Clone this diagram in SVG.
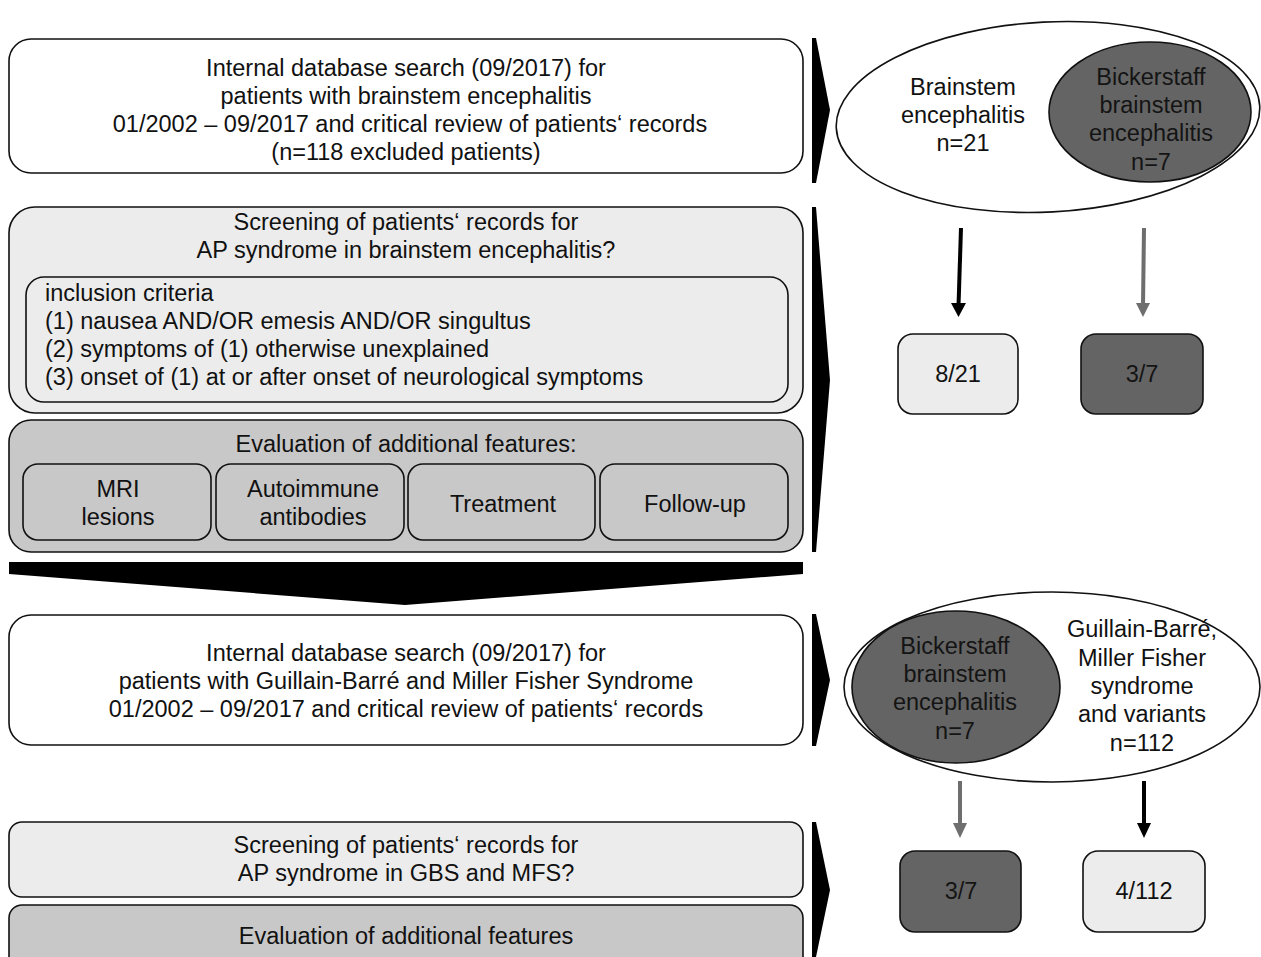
<svg xmlns="http://www.w3.org/2000/svg" width="1261" height="957" viewBox="0 0 1261 957">
<style>
text{font-family:"Liberation Sans",Arial,sans-serif;font-size:23.5px;fill:#111;text-anchor:middle}
.l{text-anchor:start}
.box{stroke:#111;stroke-width:1.6}
.w{fill:#fff}
.lg{fill:#ececec}
.mg{fill:#c8c8c8}
.dg{fill:#646464}
.dt{fill:#141414}
.chev{fill:#000}
</style>
<rect width="1261" height="957" fill="#fff"/>

<g id="search1">
<rect class="box w" x="9" y="39" width="794" height="134" rx="22"/>
<text x="406" y="76">Internal database search (09/2017) for</text>
<text x="406" y="104">patients with brainstem encephalitis</text>
<text x="410" y="132">01/2002 – 09/2017 and critical review of patients‘ records</text>
<text x="406" y="160">(n=118 excluded patients)</text>
</g>

<g id="screening1">
<rect class="box lg" x="9" y="207" width="794" height="206" rx="26"/>
<text x="406" y="230">Screening of patients‘ records for</text>
<text x="406" y="258">AP syndrome in brainstem encephalitis?</text>
<rect class="box lg" x="26" y="277" width="762" height="125" rx="18"/>
<text class="l" x="45" y="301">inclusion criteria</text>
<text class="l" x="45" y="329">(1) nausea AND/OR emesis AND/OR singultus</text>
<text class="l" x="45" y="357">(2) symptoms of (1) otherwise unexplained</text>
<text class="l" x="45" y="385">(3) onset of (1) at or after onset of neurological symptoms</text>
</g>

<g id="evaluation1">
<rect class="box mg" x="9" y="420" width="794" height="132" rx="22"/>
<text x="406" y="452">Evaluation of additional features:</text>
<rect class="box mg" x="23" y="464" width="188" height="76" rx="15"/>
<text x="118" y="497">MRI</text>
<text x="118" y="525">lesions</text>
<rect class="box mg" x="216" y="464" width="188" height="76" rx="15"/>
<text x="313" y="497">Autoimmune</text>
<text x="313" y="525">antibodies</text>
<rect class="box mg" x="408" y="464" width="187" height="76" rx="15"/>
<text x="503" y="512">Treatment</text>
<rect class="box mg" x="600" y="464" width="188" height="76" rx="15"/>
<text x="695" y="512">Follow-up</text>
</g>

<g id="search2">
<rect class="box w" x="9" y="615" width="794" height="130" rx="22"/>
<text x="406" y="661">Internal database search (09/2017) for</text>
<text x="406" y="689">patients with Guillain-Barré and Miller Fisher Syndrome</text>
<text x="406" y="717">01/2002 – 09/2017 and critical review of patients‘ records</text>
</g>

<g id="screening2">
<rect class="box lg" x="9" y="822" width="794" height="75" rx="13"/>
<text x="406" y="853">Screening of patients‘ records for</text>
<text x="406" y="881">AP syndrome in GBS and MFS?</text>
</g>

<g id="evaluation2">
<rect class="box mg" x="9" y="905" width="794" height="70" rx="13"/>
<text x="406" y="944">Evaluation of additional features</text>
</g>

<g id="venn1">
<ellipse class="box w" cx="1048" cy="117" rx="212" ry="95" transform="rotate(-3 1048 117)"/>
<ellipse class="box dg" cx="1150" cy="112" rx="101" ry="70"/>
<text x="963" y="95">Brainstem</text>
<text x="963" y="123">encephalitis</text>
<text x="963" y="151">n=21</text>
<text class="dt" x="1151" y="85">Bickerstaff</text>
<text class="dt" x="1151" y="113">brainstem</text>
<text class="dt" x="1151" y="141">encephalitis</text>
<text class="dt" x="1151" y="170">n=7</text>
</g>

<g id="res1a">
<rect class="box lg" x="898" y="334" width="120" height="80" rx="15"/>
<text x="958" y="382">8/21</text>
</g>
<g id="res1b">
<rect class="box dg" x="1081" y="334" width="122" height="80" rx="15"/>
<text class="dt" x="1142" y="382">3/7</text>
</g>

<g id="venn2">
<ellipse class="box w" cx="1052" cy="687" rx="208" ry="95"/>
<ellipse class="box dg" cx="956" cy="687" rx="104" ry="76"/>
<text class="dt" x="955" y="654">Bickerstaff</text>
<text class="dt" x="955" y="682">brainstem</text>
<text class="dt" x="955" y="710">encephalitis</text>
<text class="dt" x="955" y="739">n=7</text>
<text x="1142" y="637">Guillain-Barré,</text>
<text x="1142" y="666">Miller Fisher</text>
<text x="1142" y="694">syndrome</text>
<text x="1142" y="722">and variants</text>
<text x="1142" y="751">n=112</text>
</g>

<g id="res2a">
<rect class="box dg" x="900" y="851" width="121" height="81" rx="15"/>
<text class="dt" x="961" y="899">3/7</text>
</g>
<g id="res2b">
<rect class="box lg" x="1083" y="851" width="122" height="81" rx="15"/>
<text x="1144" y="899">4/112</text>
</g>

<g id="connectors">
<polygon class="chev" points="812,38 816,38 830,110 816,183 812,183"/>
<polygon class="chev" points="812,207 816,207 830,380 816,552 812,552"/>
<polygon class="chev" points="812,614 816,614 830,680 816,746 812,746"/>
<polygon class="chev" points="812,822 816,822 830,890 816,957 812,957"/>
<polygon class="chev" points="9,562 803,562 803,574 405,605 9,574"/>
<line x1="961" y1="228" x2="958.5" y2="306" stroke="#000" stroke-width="4"/>
<polygon points="951,303 966,303 958.5,317" fill="#000"/>
<line x1="1144" y1="228" x2="1143" y2="306" stroke="#6e6e6e" stroke-width="4"/>
<polygon points="1136,303 1150,303 1143,317" fill="#6e6e6e"/>
<line x1="960" y1="781" x2="960" y2="826" stroke="#6e6e6e" stroke-width="4"/>
<polygon points="953,823 967,823 960,838" fill="#6e6e6e"/>
<line x1="1144" y1="781" x2="1144" y2="826" stroke="#000" stroke-width="4"/>
<polygon points="1137,823 1151,823 1144,838" fill="#000"/>
</g>
</svg>
